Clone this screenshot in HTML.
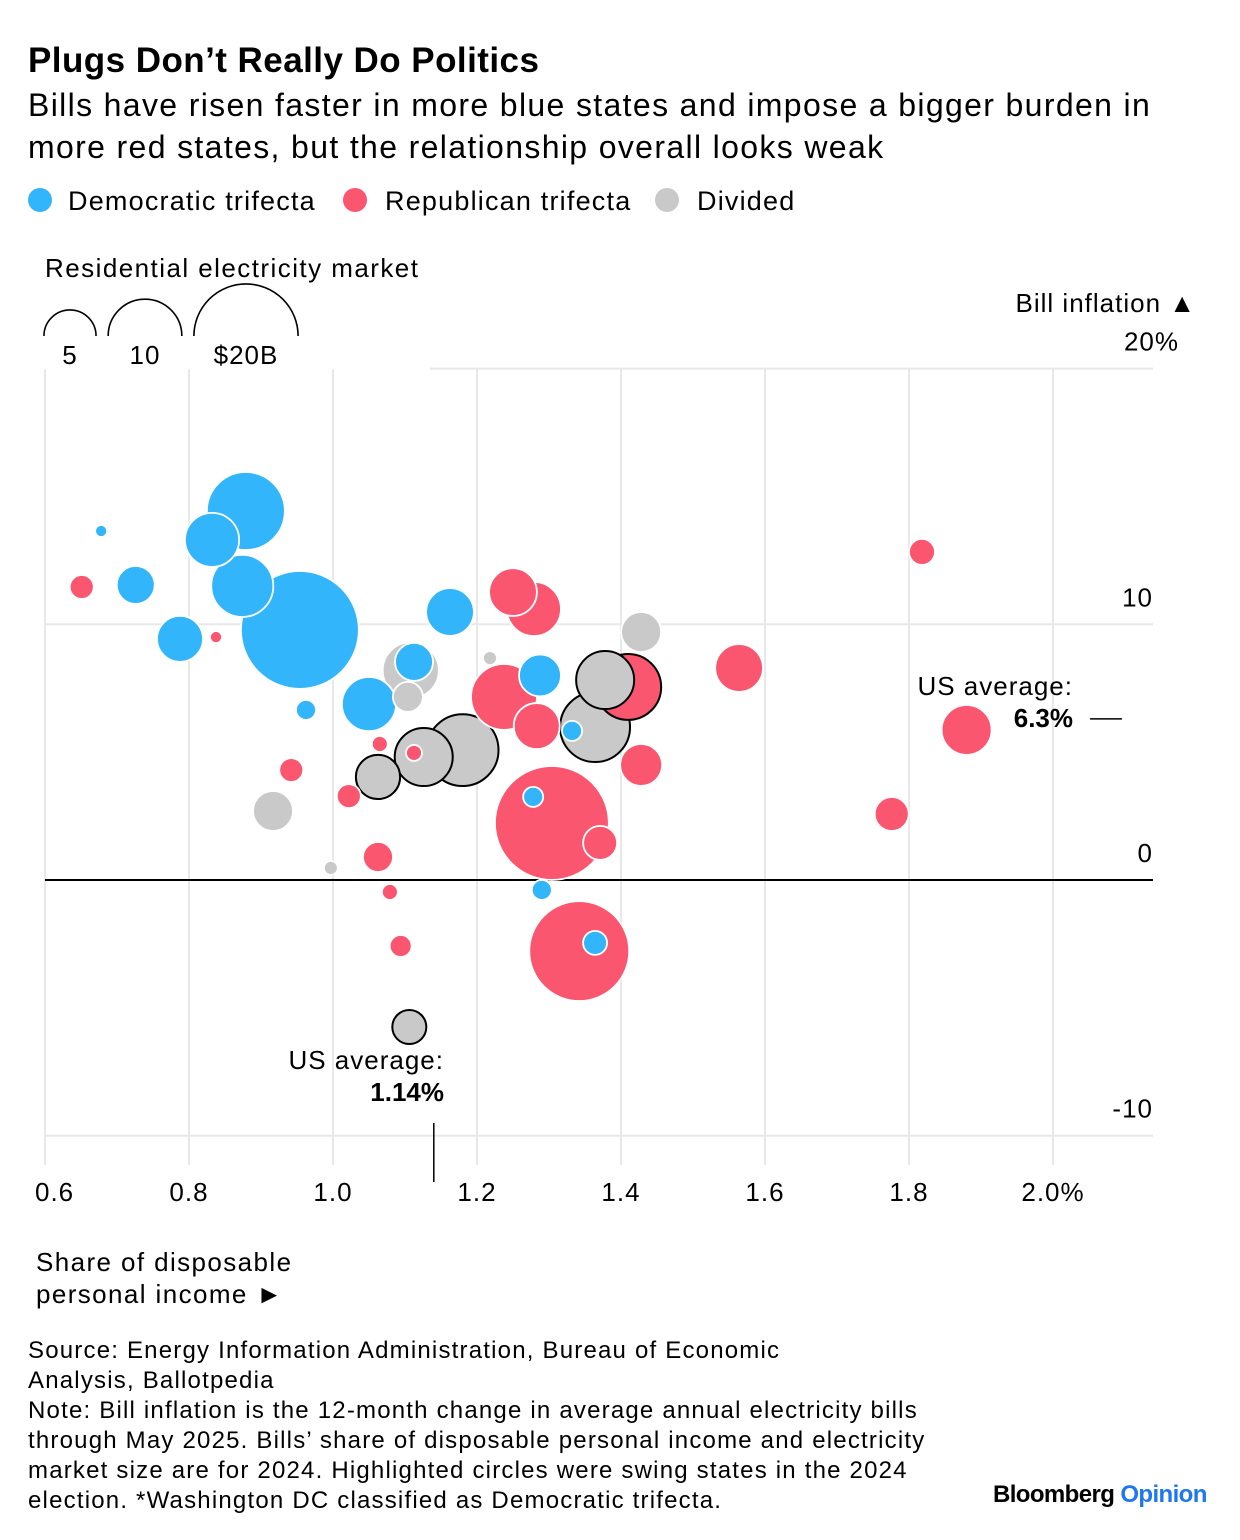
<!DOCTYPE html>
<html><head><meta charset="utf-8">
<style>
body{margin:0;background:#fff;font-family:"Liberation Sans",sans-serif;color:#000;}
#wrap{position:relative;width:1240px;height:1540px;overflow:hidden;}
.t{position:absolute;white-space:nowrap;}
</style></head>
<body>
<div id="wrap">
<div class="t" style="left:28px;top:41px;font-size:35px;font-weight:bold;letter-spacing:0.45px">Plugs Don’t Really Do Politics</div>
<div class="t" style="left:28px;top:84px;font-size:32px;line-height:42px;letter-spacing:1.35px">Bills have risen faster in more blue states and impose a bigger burden in<br>more red states, but the relationship overall looks weak</div>
<div class="t" style="left:28px;top:186px;font-size:27px;letter-spacing:1.2px"><span style="display:inline-block;width:24px;height:24px;border-radius:50%;background:#33b5fb;vertical-align:-2px;margin-right:16px"></span>Democratic trifecta</div>
<div class="t" style="left:343px;top:186px;font-size:27px;letter-spacing:1.2px"><span style="display:inline-block;width:24px;height:24px;border-radius:50%;background:#fb566f;vertical-align:-2px;margin-right:18px"></span>Republican trifecta</div>
<div class="t" style="left:655px;top:186px;font-size:27px;letter-spacing:1.2px"><span style="display:inline-block;width:24px;height:24px;border-radius:50%;background:#c9c9c9;vertical-align:-2px;margin-right:18px"></span>Divided</div>
<div class="t" style="left:45px;top:253px;font-size:26px;letter-spacing:1.45px">Residential electricity market</div>

<svg id="chart" width="1240" height="1540" style="position:absolute;left:0;top:0"></svg>

<div class="t" style="left:36px;top:1246px;font-size:26px;line-height:32px;letter-spacing:1.4px">Share of disposable<br>personal income ►</div>
<div class="t" style="left:28px;top:1336px;font-size:24px;line-height:30px;letter-spacing:1.2px">Source: Energy Information Administration, Bureau of Economic<br>Analysis, Ballotpedia<br>Note: Bill inflation is the 12-month change in average annual electricity bills<br>through May 2025. Bills’ share of disposable personal income and electricity<br>market size are for 2024. Highlighted circles were swing states in the 2024<br>election. *Washington DC classified as Democratic trifecta.</div>
<div class="t" style="left:993px;top:1481px;font-size:24px;font-weight:bold;letter-spacing:-0.6px">Bloomberg <span style="color:#1f77f0">Opinion</span></div>
</div>
<script>
const xTicks=[0.6,0.8,1.0,1.2,1.4,1.6,1.8,2.0];
const xTickLabels=["0.6","0.8","1.0","1.2","1.4","1.6","1.8","2.0%"];
const yTicks=[20,10,0,-10];
const yTickLabels=["20%","10","0","-10"];
const sizeLegend=[5,10,20];
const sizeLegendLabels=["5","10","$20B"];
// Democratic trifecta: share, inflation, market size ($B)
const demX=[0.678,0.879,0.832,0.726,0.874,0.7875,0.954,1.1625,1.1125,1.2875,0.9625,1.05,1.332,1.278,1.29,1.364];
const demY=[13.65,14.43,13.3,11.54,11.5,9.43,9.78,10.48,8.53,8.0,6.65,6.88,5.83,3.25,-0.39,-2.46];
const demS=[0.27,11.2,5.4,2.66,7.1,3.9,25.6,4.2,2.66,3.25,0.74,5.4,0.74,0.74,0.74,1.06];
const demSwing=[0,0,0,0,0,0,0,0,0,0,0,0,0,0,0,0];
// Republican trifecta
const repX=[0.651,0.8375,1.25,1.279,1.818,1.564,1.41,1.2375,1.283,1.88,1.065,1.428,0.942,1.022,1.1125,1.304,1.371,1.776,1.0625,1.079,1.094,1.342];
const repY=[11.46,9.5,11.26,10.6,12.83,8.29,7.55,7.16,6.02,5.87,5.32,4.5,4.3,3.28,4.97,2.23,1.45,2.58,0.9,-0.47,-2.58,-2.78];
const repS=[1.06,0.27,4.2,5.4,1.25,4.2,8.0,8.0,3.9,4.6,0.47,3.25,1.06,1.06,0.47,23.9,2.13,2.13,1.66,0.47,0.89,18.4];
const repSwing=[0,0,0,0,0,0,1,0,0,0,0,0,0,0,0,0,0,0,0,0,0,0];
// Divided
const divX=[1.428,1.218,1.108,1.104,1.378,1.364,1.18,1.126,1.0625,0.9167,0.997,1.106];
const divY=[9.7,8.68,8.2,7.16,7.82,5.98,5.08,4.81,4.03,2.7,0.47,-5.75];
const divS=[2.95,0.36,5.8,1.66,6.2,9.0,9.5,6.2,3.6,2.95,0.36,2.13];
const divSwing=[0,0,0,0,1,1,1,1,1,0,0,1];
const usAvgX=1.14, usAvgY=6.3;

const X=v=>45+(v-0.6)*720;
const Y=v=>880-v*25.57;
const R=s=>11.65*Math.sqrt(s);
const svg=document.getElementById('chart');
const NS='http://www.w3.org/2000/svg';
function mk(tag,attrs,parent){const e=document.createElementNS(NS,tag);for(const k in attrs)e.setAttribute(k,attrs[k]);(parent||svg).appendChild(e);return e;}

// size legend
sizeLegend.forEach((s,i)=>{
  const cxs=[70,145,246];const r=R(s);const cx=cxs[i];const cy=336;
  const p=mk('path',{d:`M${cx-r} ${cy} A${r} ${r} 0 0 1 ${cx+r} ${cy}`,fill:'none',stroke:'#000','stroke-width':1.6});
  
  
  const t=mk('text',{x:cx,y:364,'text-anchor':'middle','font-size':26,'letter-spacing':'1px'});
  t.textContent=sizeLegendLabels[i];
  
  
});

// grid
xTicks.forEach((v,i)=>{
  const l=mk('line',{x1:X(v),x2:X(v),y1:369,y2:1165,stroke:'#e8e8e8','stroke-width':2});
  
  
  const t=mk('text',{x:X(v)+(i==0?-10:0),y:1201,'text-anchor':i==0?'start':'middle','font-size':26,'letter-spacing':'1px'});
  t.textContent=xTickLabels[i];
  
  
});
yTicks.forEach((v,i)=>{
  const l=mk('line',{x1:v==20?430:45,x2:1153,y1:Y(v),y2:Y(v),stroke:v==0?'#000':'#e8e8e8','stroke-width':2});
  
  
  const t=mk('text',{x:v==20?1179:1153,y:Y(v)-18,'text-anchor':'end','font-size':26,'letter-spacing':'1px'});
  t.textContent=yTickLabels[i];
  
  
});
const yt=mk('text',{x:1196,y:312,'text-anchor':'end','font-size':26,'letter-spacing':'1px'});
yt.textContent='Bill inflation ▲';



// bubbles
const all=[];
demX.forEach((v,i)=>all.push({x:v,y:demY[i],s:demS[i],c:'#33b5fb',sw:demSwing[i],n:'bubble-democratic'}));
repX.forEach((v,i)=>all.push({x:v,y:repY[i],s:repS[i],c:'#fb566f',sw:repSwing[i],n:'bubble-republican'}));
divX.forEach((v,i)=>all.push({x:v,y:divY[i],s:divS[i],c:'#c9c9c9',sw:divSwing[i],n:'bubble-divided'}));
all.sort((a,b)=>b.s-a.s);
all.forEach(d=>{
  const c=mk('circle',{cx:X(d.x),cy:Y(d.y),r:R(d.s),fill:d.c,stroke:d.sw?'#000':'#fff','stroke-width':d.sw?2:1.8});
  
  
});

// US averages
const ua=mk('line',{x1:1090,x2:1122,y1:Y(usAvgY),y2:Y(usAvgY),stroke:'#000','stroke-width':1.5});


let t1=mk('text',{x:1073,y:695,'text-anchor':'end','font-size':26,'letter-spacing':'1px'});t1.textContent='US average:';


let t2=mk('text',{x:1073,y:727,'text-anchor':'end','font-size':26,'font-weight':'bold'});t2.textContent=usAvgY+'%';


const ux=mk('line',{x1:X(usAvgX),x2:X(usAvgX),y1:1123,y2:1182,stroke:'#000','stroke-width':1.5});


let t3=mk('text',{x:444,y:1069,'text-anchor':'end','font-size':26,'letter-spacing':'1px'});t3.textContent='US average:';


let t4=mk('text',{x:444,y:1101,'text-anchor':'end','font-size':26,'font-weight':'bold'});t4.textContent=usAvgX.toFixed(2)+'%';


</script>
</body></html>
